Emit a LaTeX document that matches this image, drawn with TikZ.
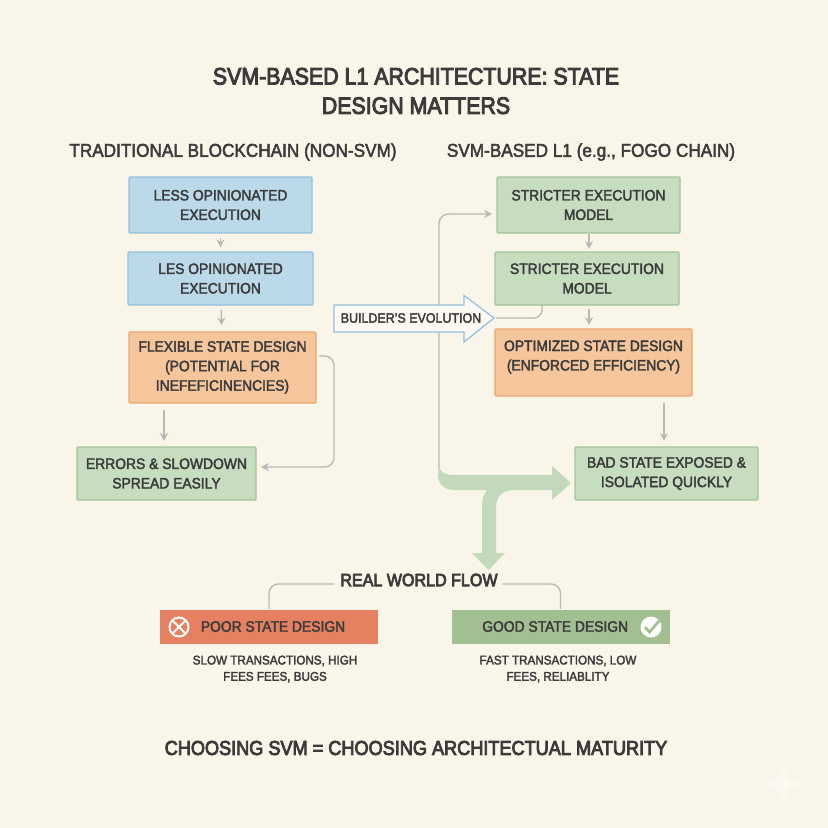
\documentclass[tikz,border=0pt]{standalone}
\usepackage{fontspec}
\setmainfont{Liberation Sans}[FakeBold=2.4,FakeStretch=0.92]
\newfontfamily\titlefont{Liberation Sans}[FakeBold=4,FakeStretch=0.9]
\usetikzlibrary{arrows.meta}
\definecolor{paper}{HTML}{FAF5E9}
\definecolor{ink}{HTML}{3B3B3B}
\definecolor{wire}{HTML}{B8B8B4}
\definecolor{bluefill}{HTML}{BCD9EA}
\definecolor{blueline}{HTML}{90C0DE}
\definecolor{orangefill}{HTML}{F5C59C}
\definecolor{orangeline}{HTML}{EBA673}
\definecolor{greenfill}{HTML}{C6DDC0}
\definecolor{greenline}{HTML}{A0C49A}
\definecolor{fatgreen}{HTML}{C3D9BC}
\definecolor{poorred}{HTML}{E58060}
\definecolor{goodgreen}{HTML}{A1BF91}
\def\px{0.75pt}
\tikzset{
  basebox/.style={rectangle,rounded corners=0.8pt,line width=0.9pt,inner sep=0pt,align=center,text=ink,
    font=\fontsize{11.3}{14.6}\selectfont},
  bluebox/.style={basebox,draw=blueline,fill=bluefill},
  orangebox/.style={basebox,draw=orangeline,fill=orangefill},
  greenbox/.style={basebox,draw=greenline,fill=greenfill},
  resultbox/.style={basebox,minimum width=218*\px,minimum height=34*\px,rounded corners=0pt,draw=none},
  wired/.style={draw=wire,line width=1pt,-{Stealth[length=6pt,width=6pt]}},
  plainwire/.style={draw=wire,line width=1pt},
  subtext/.style={align=center,text=ink,inner sep=0pt,font=\fontsize{9.5}{12.2}\selectfont},
  headtext/.style={text=ink,inner sep=0pt,font=\fontsize{14}{16}\selectfont},
  bigtext/.style={text=ink,inner sep=0pt,align=center,font=\titlefont\fontsize{17.8}{22}\selectfont},
}
\begin{document}
\begin{tikzpicture}[x=0.75pt,y=-0.75pt]
\fill[paper] (0,0) rectangle (828,828);
\useasboundingbox (0,0) rectangle (828,828);

\node[bigtext] (title) at (416,91) {SVM-BASED L1 ARCHITECTURE: STATE\\DESIGN MATTERS};
\node[headtext] (lefthead) at (233,152) {TRADITIONAL BLOCKCHAIN (NON-SVM)};
\node[headtext] (righthead) at (591,152) {SVM-BASED L1 (e.g., FOGO CHAIN)};

% left column
\node[bluebox,minimum width=183*\px,minimum height=56*\px] (a1) at (220.5,205) {LESS OPINIONATED\\EXECUTION};
\node[bluebox,minimum width=185*\px,minimum height=53*\px] (a2) at (220.5,278.5) {LES OPINIONATED\\EXECUTION};
\node[orangebox,minimum width=187*\px,minimum height=71*\px] (a3) at (222.5,367.5) {FLEXIBLE STATE DESIGN\\(POTENTIAL FOR\\INEFEFICINENCIES)};
\node[greenbox,minimum width=179*\px,minimum height=53*\px] (a4) at (166.5,473.5) {ERRORS \& SLOWDOWN\\SPREAD EASILY};

% right column
\node[greenbox,minimum width=183*\px,minimum height=56*\px] (b1) at (588.5,205) {STRICTER EXECUTION\\MODEL};
\node[greenbox,minimum width=184*\px,minimum height=53*\px] (b2) at (587,278.5) {STRICTER EXECUTION\\MODEL};
\node[orangebox,text depth=10.5pt,minimum width=197*\px,minimum height=67*\px] (b3) at (593.5,362.5) {OPTIMIZED STATE DESIGN\\(ENFORCED EFFICIENCY)};
\node[greenbox,minimum width=183*\px,minimum height=53*\px] (b4) at (666.5,473.5) {BAD STATE EXPOSED \&\\ISOLATED QUICKLY};

% thin arrows
\coordinate (a3out) at (319,356);
\coordinate (a3foot) at (164,403);
\coordinate (a4top) at (164,447);
\coordinate (a4in) at (256,467);
\coordinate (b1in) at (497,214);
\coordinate (b1foot) at (589,233);
\coordinate (b2top) at (589,252);
\coordinate (b2foot) at (589,305);
\coordinate (b3top) at (589,329);
\coordinate (b3foot) at (664,396);
\coordinate (b4top) at (664,447);
\coordinate (b2tail) at (542,305);
\coordinate (evotip) at (496,318);
\coordinate (fatstart) at (439,470);
\draw[wired,shorten <=4*\px,shorten >=4*\px] (a1) -- (a2);
\draw[wired,shorten <=4*\px,shorten >=6*\px] (a2) -- (a3);
\draw[wired,shorten <=7*\px,shorten >=6*\px] (a3foot) -- (a4top);
\draw[wired,shorten <=1*\px,shorten >=3*\px] (b1foot) -- (b2top);
\draw[wired,shorten <=4*\px,shorten >=4*\px] (b2foot) -- (b3top);
\draw[wired,shorten <=7*\px,shorten >=6*\px] (b3foot) -- (b4top);
\draw[wired,rounded corners=7pt,shorten >=5*\px] (a3out) -| (334,467) -- (a4in);
\draw[wired,rounded corners=7pt,shorten >=5*\px] (fatstart) |- (b1in);

% fat green arrows
\fill[fatgreen] (439,466) .. controls (440,472) and (445,475) .. (453,475) -- (552,475) -- (552,466)
  -- (571,483) -- (552,500) -- (552,490) -- (515,490) .. controls (502,490) and (496,496) .. (496,508)
  -- (496,553) -- (505,553) -- (488.5,570) -- (472,553) -- (482,553) -- (482,505)
  .. controls (482,498) and (484,494) .. (487,490) -- (455,490) .. controls (444,490) and (438,484) .. (438,475) -- cycle;

% builder arrow
\draw[blueline,line width=0.9pt,fill=paper!60!white] (334,305) -- (464,305) -- (464,295.5) -- (494,318)
  -- (464,342) -- (464,332) -- (334,332) -- cycle;
\node[text=ink,inner sep=0pt,font=\fontsize{10.15}{12}\selectfont] (evo) at (411,318) {BUILDER'S EVOLUTION};
\draw[plainwire,rounded corners=6pt] (evotip) -| (b2tail);

% real world flow
\node[text=ink,inner sep=0pt,font=\titlefont\fontsize{13.4}{16}\selectfont] (flow) at (419,580) {REAL WORLD FLOW};
\node[resultbox,fill=poorred] (poor) at (269,626.5) {\hspace*{6pt}POOR STATE DESIGN};
\node[resultbox,fill=goodgreen] (good) at (560.5,626.5) {\hspace*{-8pt}GOOD STATE DESIGN};
\coordinate (flowleft) at (334,584);
\coordinate (flowright) at (502,584);
\draw[plainwire,rounded corners=7pt] (flowleft) -| (poor.north);
\draw[plainwire,rounded corners=7pt] (flowright) -| (good.north);

% icons
\draw[white!95!paper,line width=1.5pt,fill=poorred] (179,627) circle (9.5);
\foreach \a in {45,135}{
  \draw[white!95!paper,line width=1.5pt] (179,627) ++(\a:-9.5) -- ++(\a:19);
}
\fill[white!90!paper] (651,627) circle (10.5);
\draw[goodgreen,line width=2pt] (645,627) -- (649.5,632) -- (660,620);

\node[subtext] (poornote) at (275,669) {SLOW TRANSACTIONS, HIGH\\FEES FEES, BUGS};
\node[subtext] (goodnote) at (558,669) {FAST TRANSACTIONS, LOW\\FEES, RELIABLITY};

\node[bigtext,font=\titlefont\fontsize{15.1}{20}\selectfont] (closing) at (416,748) {CHOOSING SVM = CHOOSING ARCHITECTUAL MATURITY};

% corner sparkle
\fill[white!40!paper] (783,762) .. controls (785,777) and (789,781) .. (803,784)
  .. controls (789,787) and (785,791) .. (783,806) .. controls (781,791) and (777,787) .. (763,784)
  .. controls (777,781) and (781,777) .. (783,762) -- cycle;
\end{tikzpicture}
\end{document}
